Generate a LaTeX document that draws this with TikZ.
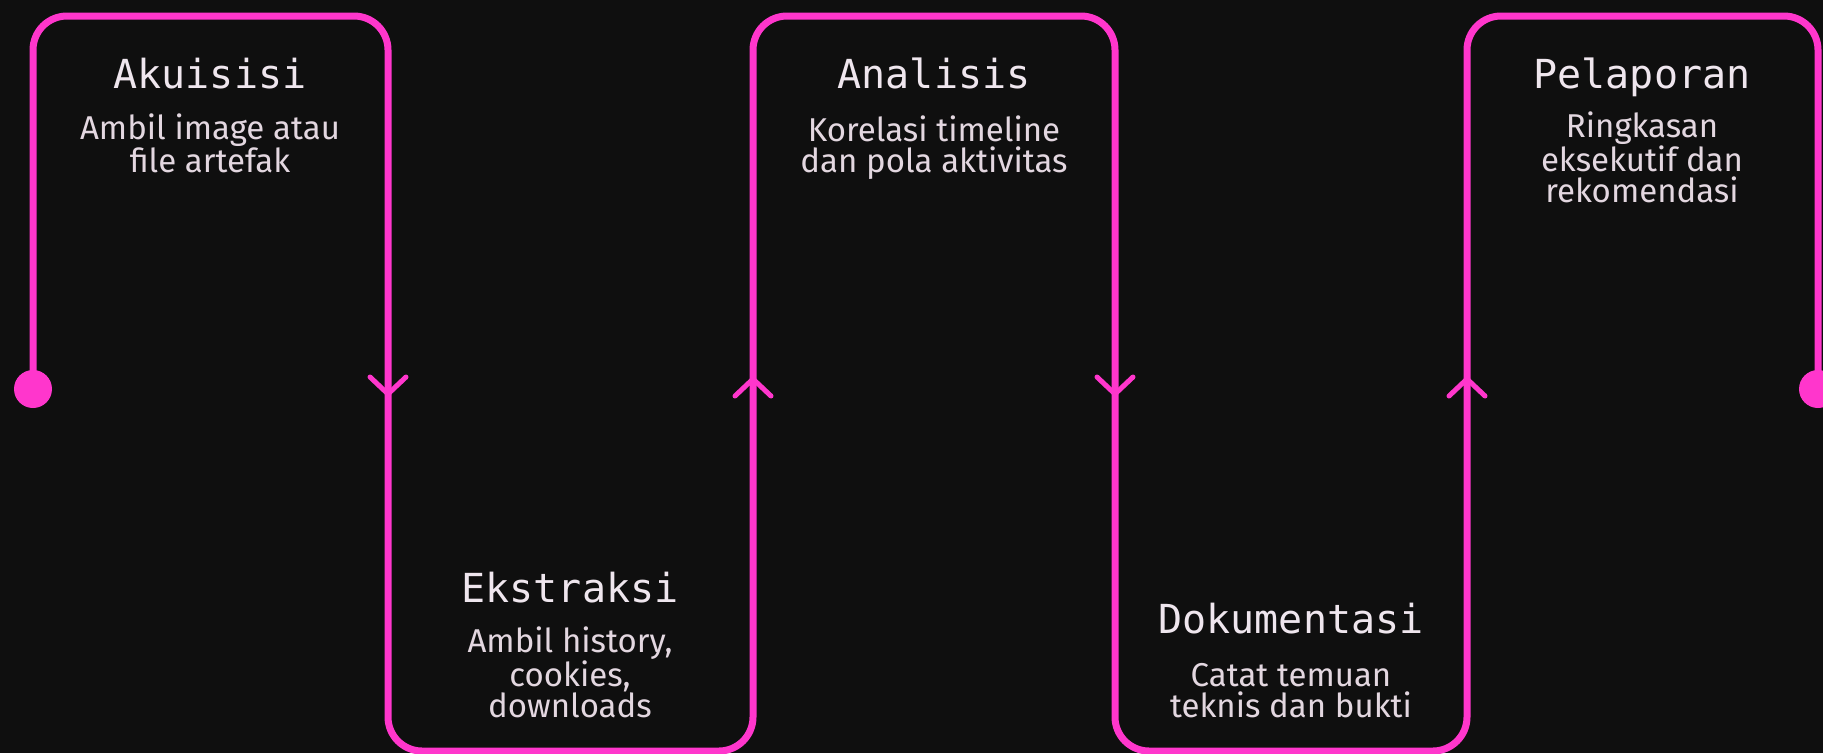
\documentclass[tikz,border=0pt]{standalone}
\usepackage{fontspec}
\setmainfont{Fira Sans}
\newfontfamily\judulfont{DejaVu Sans Mono}

\definecolor{latar}{HTML}{0F0F0F}
\definecolor{garis}{HTML}{FF36CC}
\definecolor{teksjudul}{HTML}{EFE6EE}
\definecolor{teksket}{HTML}{E3D7E0}

\tikzset{
  judul/.style={anchor=base, inner sep=0pt, text=teksjudul,
    font=\judulfont\fontsize{40}{40}\selectfont},
  ket/.style={anchor=base, inner sep=0pt, align=center, text=teksket,
    font=\fontsize{33}{30.5}\selectfont},
  alur/.style={draw=garis, line width=7pt, rounded corners=34pt},
  titik/.style={circle, fill=garis, minimum size=38pt, inner sep=0pt},
  panah/.style={draw=garis, line width=5pt, line cap=round, line join=round}
}

\begin{document}
\begin{tikzpicture}[x=1pt,y=-1pt]

% ===== Latar =====
\fill[latar] (0,0) rectangle (1823,753);
\useasboundingbox (0,0) rectangle (1823,753);

% ===== Titik awal dan akhir =====
\node[titik] (mulai) at (33,389) {};
\node[titik] (selesai) at (1818,389) {};

% ===== Alur berliku =====
\coordinate (b1) at (388,16);
\coordinate (b2) at (753,751);
\coordinate (b3) at (1115,16);
\coordinate (b4) at (1467,751);
\coordinate (b5) at (1818,16);
\draw[alur] (mulai.center) |- (b1) |- (b2) |- (b3) |- (b4) |- (b5) -- (selesai.center);

% ===== Mata panah =====
\foreach \x/\ytip/\arah in {388/394/-1, 753/379/1, 1115/394/-1, 1467/379/1} {
    \draw[panah] (\x-18,\ytip+\arah*17) -- (\x,\ytip) -- (\x+18,\ytip+\arah*17);
}

% ===== Tahap atas (base = baris terakhir) =====
\node[judul] (akuisisi) at (210,88) {Akuisisi};
\node[ket] (ketakuisisi) at (210,172) {Ambil image atau\\file artefak};

\node[judul] (analisis) at (934,88) {Analisis};
\node[ket] (ketanalisis) at (934,172) {Korelasi timeline\\dan pola aktivitas};

\node[judul] (pelaporan) at (1642,88) {Pelaporan};
\node[ket] (ketpelaporan) at (1642,202) {Ringkasan\\eksekutif dan\\rekomendasi};

% ===== Tahap bawah =====
\node[judul] (ekstraksi) at (570,602) {Ekstraksi};
\node[ket] (ketekstraksi) at (570,717) {Ambil history,\\cookies,\\downloads};

\node[judul] (dokumentasi) at (1291,633) {Dokumentasi};
\node[ket] (ketdokumentasi) at (1291,717) {Catat temuan\\teknis dan bukti};

\end{tikzpicture}
\end{document}
